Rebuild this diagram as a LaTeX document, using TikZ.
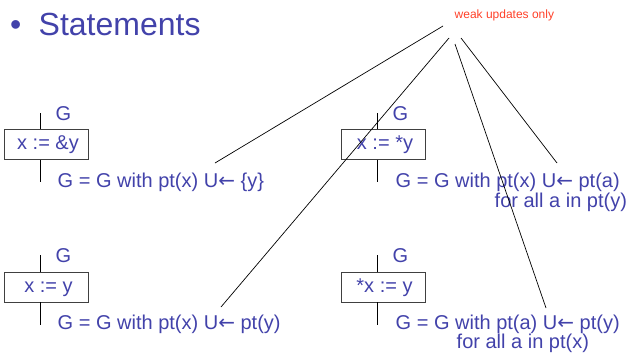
\documentclass[tikz,border=0pt]{standalone}
\usepackage{fontspec}
\setmainfont{Liberation Sans}
\newfontfamily\arrowfont{DejaVu Sans}
\definecolor{slideblue}{RGB}{66,66,170}
\definecolor{slidered}{RGB}{255,64,40}
\newcommand{\larr}{{\arrowfont\char"2190}}
\begin{document}
\begin{tikzpicture}[x=1pt,y=-1pt,
  txt/.style={inner sep=0pt,anchor=base west,text=slideblue,font=\fontsize{20}{24}\selectfont},
  stmt/.style={draw=black!75,line width=0.8pt,minimum width=84pt,minimum height=30pt,inner sep=0pt,
    text=slideblue,font=\fontsize{20}{24}\selectfont,text height=15pt,text depth=5pt},
  flow/.style={draw=black,line width=0.8pt},
  note/.style={draw=black,line width=0.7pt}]
\useasboundingbox (0,0) rectangle (642,354);
% title
\node[inner sep=0pt,anchor=base west,text=slideblue,font=\fontsize{32}{38}\selectfont] (bul) at (10,35) {•};
\node[inner sep=0pt,anchor=base west,text=slideblue,font=\fontsize{32}{38}\selectfont] (title) at (38.5,35) {Statements};
\node[inner sep=0pt,anchor=base west,text=slidered,font=\fontsize{12}{14}\selectfont] (weak) at (454.5,18) {weak updates only};

% box 1
\node[stmt] (b1) at (46,144.5) {\hspace*{4pt}x := \&y};
\coordinate (t1) at (40,113);
\coordinate (u1) at (40,182);
\draw[flow] (t1) -- (t1 |- b1.north);
\draw[flow] (u1 |- b1.south) -- (u1);
\node[txt] (g1) at (55.5,120) {G};
\node[txt] (r1) at (57.5,187) {G = G with pt(x) U\larr\ \{y\}};

% box 2
\node[stmt] (b2) at (383.5,144.5) {\hspace*{3pt}x := *y};
\coordinate (t2) at (377,113);
\coordinate (u2) at (377,182);
\draw[flow] (t2) -- (t2 |- b2.north);
\draw[flow] (u2 |- b2.south) -- (u2);
\node[txt] (g2) at (392.5,120) {G};
\node[txt] (r2) at (395.5,187) {G = G with pt(x) U\larr\ pt(a)};
\node[txt] (r2b) at (494.5,207) {for all a in pt(y)};

% box 3
\node[stmt] (b3) at (46,287) {\hspace*{5pt}x := y};
\coordinate (t3) at (40,255);
\coordinate (u3) at (40,325);
\draw[flow] (t3) -- (t3 |- b3.north);
\draw[flow] (u3 |- b3.south) -- (u3);
\node[txt] (g3) at (55.5,262) {G};
\node[txt] (r3) at (57.5,329) {G = G with pt(x) U\larr\ pt(y)};

% box 4
\node[stmt] (b4) at (383.5,287) {\hspace*{2pt}*x := y};
\coordinate (t4) at (377,255);
\coordinate (u4) at (377,325);
\draw[flow] (t4) -- (t4 |- b4.north);
\draw[flow] (u4 |- b4.south) -- (u4);
\node[txt] (g4) at (392.5,262) {G};
\node[txt] (r4) at (395.5,329) {G = G with pt(a) U\larr\ pt(y)};
\node[txt] (r4b) at (456.5,348) {for all a in pt(x)};

% pointer lines
\coordinate (s1) at (443,26);
\coordinate (s2) at (449,38);
\coordinate (s3) at (455,44);
\coordinate (s4) at (461,38);
\coordinate (e1) at (215,163);
\coordinate (e2) at (221,307);
\coordinate (e3) at (546,308);
\coordinate (e4) at (557,163);
\draw[note] (s1) -- (e1);
\draw[note] (s2) -- (e2);
\draw[note] (s3) -- (e3);
\draw[note] (s4) -- (e4);
\end{tikzpicture}
\end{document}
